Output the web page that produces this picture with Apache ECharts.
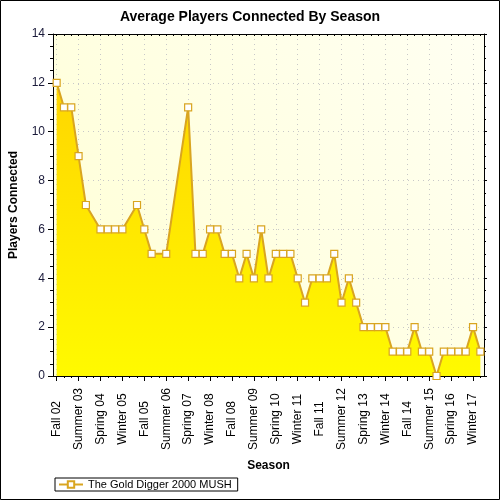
<!DOCTYPE html>
<html>
<head>
<meta charset="utf-8">
<script src="https://cdn.jsdelivr.net/npm/echarts@6/dist/echarts.min.js"></script>
<style>
html,body{margin:0;padding:0;background:#fff;}
#c{width:500px;height:500px;}
</style>
</head>
<body>
<div id="c"></div>
<script>
var categories = [
  'Fall 02','Winter 03','Spring 03','Summer 03','Fall 03','Winter 04','Spring 04','Summer 04',
  'Fall 04','Winter 05','Spring 05','Summer 05','Fall 05','Winter 06','Spring 06','Summer 06',
  'Fall 06','Winter 07','Spring 07','Summer 07','Fall 07','Winter 08','Spring 08','Summer 08',
  'Fall 08','Winter 09','Spring 09','Summer 09','Fall 09','Winter 10','Spring 10','Summer 10',
  'Fall 10','Winter 11','Spring 11','Summer 11','Fall 11','Winter 12','Spring 12','Summer 12',
  'Fall 12','Winter 13','Spring 13','Summer 13','Fall 13','Winter 14','Spring 14','Summer 14',
  'Fall 14','Winter 15','Spring 15','Summer 15','Fall 15','Winter 16','Spring 16','Summer 16',
  'Fall 16','Winter 17','Spring 17'
];
var players = [
  12, 11, 11, 9, 7, null, 6, 6,
  6, 6, null, 7, 6, 5, null, 5,
  null, null, 11, 5, 5, 6, 6, 5,
  5, 4, 5, 4, 6, 4, 5, 5,
  5, 4, 3, 4, 4, 4, 5, 3,
  4, 3, 2, 2, 2, 2, 1, 1,
  1, 2, 1, 1, 0, 1, 1, 1,
  1, 2, 1
];
var seriesName = 'The Gold Digger 2000 MUSH';
var yTicks = [0, 2, 4, 6, 8, 10, 12, 14];

var FONT = 'Liberation Sans';
var chart = echarts.init(document.getElementById('c'), null, {renderer: 'canvas'});
var option = {
  animation: false,
  backgroundColor: '#ffffff',
  textStyle: {fontFamily: FONT},
  title: {
    text: 'Average Players Connected By Season',
    left: 'center',
    top: 10,
    padding: 0,
    textStyle: {fontFamily: FONT, fontSize: 14, fontWeight: 'bold', color: '#000'}
  },
  legend: {
    left: 55,
    top: 478,
    padding: [1, 6, 1, 3],
    borderColor: '#000',
    borderWidth: 1,
    itemWidth: 24,
    itemHeight: 8,
    textStyle: {fontFamily: FONT, fontSize: 11, color: '#000'},
    data: [seriesName]
  },
  grid: {
    left: 53, right: 16, top: 34, bottom: 124,
    show: true,
    borderWidth: 0,
    backgroundColor: {
      type: 'linear', x: 0, y: 1, x2: 1, y2: 0,
      colorStops: [{offset: 0, color: '#FFFFD4'}, {offset: 1, color: '#FFFFF2'}]
    }
  },
  xAxis: [
    {
      type: 'category',
      data: categories,
      position: 'bottom',
      boundaryGap: true,
      name: 'Season',
      nameLocation: 'middle',
      nameGap: 84,
      nameTextStyle: {fontFamily: FONT, fontSize: 12, fontWeight: 'bold', color: '#000'},
      axisLine: {show: true, lineStyle: {color: '#000', width: 1}},
      axisTick: {show: true, interval: 2, alignWithLabel: true, length: 5, lineStyle: {color: '#000'}},
      axisLabel: {
        interval: 2, rotate: 90, align: 'center', verticalAlign: 'middle', margin: 43,
        fontFamily: FONT, fontSize: 12, color: '#000'
      },
      splitLine: {show: true, interval: 2, alignWithLabel: true, lineStyle: {color: '#C8C8C8', type: [1, 4], width: 1}}
    },
    {
      type: 'category',
      data: categories,
      position: 'bottom',
      boundaryGap: true,
      axisLine: {show: false},
      axisTick: {show: true, interval: 0, alignWithLabel: true, length: 2, lineStyle: {color: '#000'}},
      axisLabel: {show: false},
      splitLine: {show: false}
    },
    {
      type: 'category',
      data: categories,
      position: 'top',
      boundaryGap: true,
      axisLine: {show: true, lineStyle: {color: '#000', width: 1}},
      axisTick: {show: true, inside: true, interval: 0, alignWithLabel: true, length: 2, lineStyle: {color: '#000'}},
      axisLabel: {show: false},
      splitLine: {show: false}
    }
  ],
  yAxis: [
    {
      type: 'value',
      min: yTicks[0], max: yTicks[yTicks.length - 1], interval: 2,
      name: 'Players Connected',
      nameLocation: 'middle',
      nameGap: 33,
      nameTextStyle: {fontFamily: FONT, fontSize: 12, fontWeight: 'bold', color: '#000'},
      axisLine: {show: true, lineStyle: {color: '#000', width: 1}},
      axisTick: {show: true, length: 5, lineStyle: {color: '#000'}},
      minorTick: {show: true, splitNumber: 4, length: 3, lineStyle: {color: '#000'}},
      axisLabel: {fontFamily: FONT, fontSize: 12, color: '#1a1a3a', margin: 8},
      splitLine: {show: true, lineStyle: {color: '#C8C8C8', type: [1, 4], width: 1}}
    },
    {
      type: 'value',
      position: 'right',
      min: yTicks[0], max: yTicks[yTicks.length - 1], interval: 2,
      axisLine: {show: true, lineStyle: {color: '#000', width: 1}},
      axisTick: {show: true, length: 3, lineStyle: {color: '#000'}},
      minorTick: {show: true, splitNumber: 4, length: 2, lineStyle: {color: '#000'}},
      axisLabel: {show: false},
      splitLine: {show: false}
    }
  ],
  series: [{
    name: seriesName,
    type: 'line',
    xAxisIndex: 0,
    yAxisIndex: 0,
    data: players,
    connectNulls: true,
    symbol: 'rect',
    symbolSize: 7,
    showAllSymbol: true,
    z: 5,
    lineStyle: {color: '#D9A520', width: 2},
    itemStyle: {color: '#ffffff', borderColor: '#D9A520', borderWidth: 1.2},
    areaStyle: {
      opacity: 1,
      color: {
        type: 'linear', x: 0, y: 34, x2: 0, y2: 376, global: true,
        colorStops: [{offset: 0, color: '#FFD000'}, {offset: 1, color: '#FFFA00'}]
      }
    }
  }],
  graphic: [{
    type: 'rect',
    silent: true,
    shape: {x: 0.5, y: 0.5, width: 499, height: 499},
    style: {fill: 'none', stroke: '#000', lineWidth: 1},
    z: 100
  }]
};
chart.setOption(option);
</script>
</body>
</html>
